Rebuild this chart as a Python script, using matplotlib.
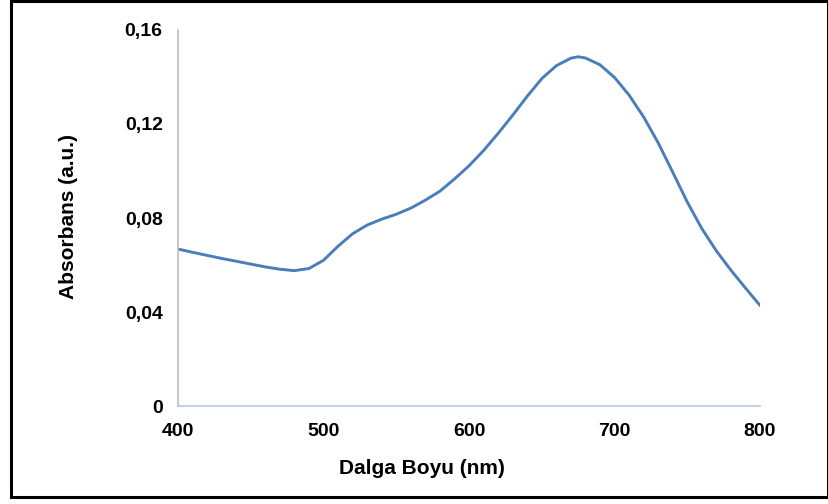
import matplotlib
matplotlib.use("Agg")
import matplotlib.pyplot as plt
from matplotlib.patches import Rectangle
from matplotlib.ticker import FuncFormatter

plt.rcParams['font.family'] = ['Liberation Sans', 'DejaVu Sans']

wavelength = [400, 410, 420, 430, 440, 450, 460, 470, 480, 490,
              500, 510, 520, 530, 540, 550, 560, 570, 580, 590,
              600, 610, 620, 630, 640, 650, 660, 670, 675, 680,
              690, 700, 710, 720, 730, 740, 750, 760, 770, 780,
              790, 800]
absorbance = [0.0668, 0.0654, 0.0641, 0.0628, 0.0616, 0.0604, 0.0592, 0.0582, 0.0576, 0.0585,
              0.0620, 0.0680, 0.0733, 0.0770, 0.0795, 0.0816, 0.0842, 0.0876, 0.0914, 0.0966,
              0.1022, 0.1087, 0.1160, 0.1237, 0.1318, 0.1393, 0.1448, 0.1480, 0.1486, 0.1481,
              0.1452, 0.1398, 0.1323, 0.1230, 0.1120, 0.0995, 0.0868, 0.0755, 0.0660, 0.0578,
              0.0502, 0.0428]

x_ticks = [400, 500, 600, 700, 800]
y_ticks = [0, 0.04, 0.08, 0.12, 0.16]

fig = plt.figure(figsize=(8.29, 5.04), dpi=100)
ax = fig.add_axes([0.2147, 0.1944, 0.7021, 0.7461])

ax.plot(wavelength, absorbance, color='#4a7ebb', linewidth=2.1,
        solid_joinstyle='round', solid_capstyle='round')

ax.set_xlim(400, 800)
ax.set_ylim(0, 0.16)
ax.set_xticks(x_ticks)
ax.set_yticks(y_ticks)


def comma_fmt(v, pos):
    if v == 0:
        return '0'
    return f'{v:.2f}'.replace('.', ',')


ax.yaxis.set_major_formatter(FuncFormatter(comma_fmt))
ax.tick_params(axis='both', length=0, labelsize=14)
ax.tick_params(axis='x', pad=12)
ax.tick_params(axis='y', pad=11)
for lbl in ax.get_xticklabels() + ax.get_yticklabels():
    lbl.set_fontweight('bold')

for side in ['top', 'right']:
    ax.spines[side].set_visible(False)
ax.spines['left'].set_color('#bfbfbf')
ax.spines['left'].set_linewidth(1.2)
ax.spines['bottom'].set_color('#b4c7e7')
ax.spines['bottom'].set_linewidth(1.2)

ax.set_xlabel('Dalga Boyu (nm)', fontsize=15, fontweight='bold')
ax.set_ylabel('Absorbans (a.u.)', fontsize=15, fontweight='bold')
ax.yaxis.set_label_coords(-0.172, 0.505)
ax.xaxis.set_label_coords(0.419, -0.14)

# black frame around the whole chart
fig.patches.append(Rectangle((0.0135, 0.0139), 0.985, 0.984, transform=fig.transFigure,
                             fill=False, edgecolor='black', linewidth=2.2))

fig.savefig('out.png', dpi=100, facecolor='white')
